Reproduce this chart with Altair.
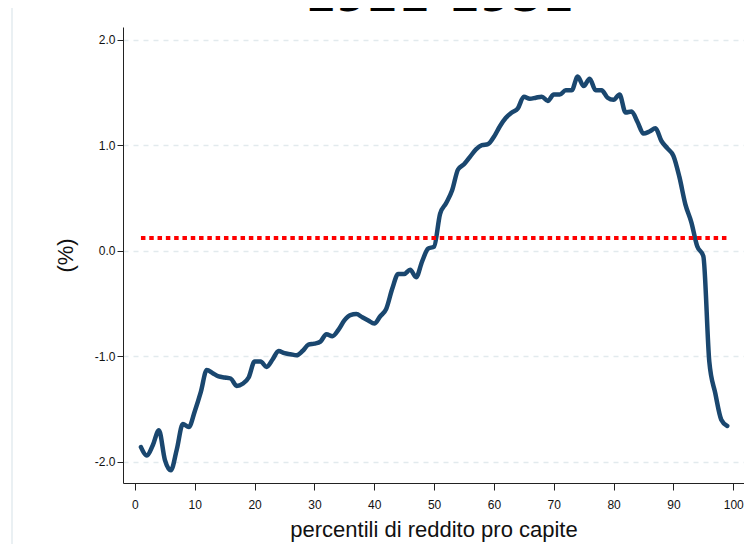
import altair as alt
import pandas as pd

# ---- data ----
percentiles = list(range(1, 100))
values = [
    -1.86, -1.94, -1.84, -1.70, -1.98, -2.08, -1.88, -1.64, -1.67, -1.52,
    -1.34, -1.13, -1.16, -1.19, -1.20, -1.21, -1.28, -1.26, -1.20, -1.05,
    -1.05, -1.10, -1.03, -0.95, -0.97, -0.98, -0.99, -0.95, -0.89, -0.88,
    -0.86, -0.79, -0.81, -0.75, -0.66, -0.61, -0.60, -0.63, -0.66, -0.69,
    -0.62, -0.55, -0.36, -0.22, -0.22, -0.18, -0.25, -0.10, 0.02, 0.04,
    0.35, 0.45, 0.57, 0.77, 0.82, 0.89, 0.96, 1.00, 1.01, 1.08,
    1.18, 1.26, 1.31, 1.35, 1.46, 1.44, 1.45, 1.46, 1.42, 1.48,
    1.48, 1.52, 1.52, 1.65, 1.56, 1.63, 1.52, 1.52, 1.45, 1.43,
    1.48, 1.31, 1.32, 1.22, 1.11, 1.13, 1.16, 1.04, 0.97, 0.90,
    0.70, 0.44, 0.27, 0.04, -0.05, -1.05, -1.35, -1.60, -1.66,
]
ref_value = [0.12]
ref_start = [1]
ref_end = [99]
x_ticks = list(range(0, 101, 10))
y_ticks = [-2, -1, 0, 1, 2]
title_text = "1921-1951"
x_title = "percentili di reddito pro capite"
y_title = "(%)"

df = pd.DataFrame({"pct": percentiles, "val": values})
ref_df = pd.DataFrame({"x": ref_start, "x2": ref_end, "y": ref_value})
one = pd.DataFrame({"t": [title_text]})

FONT = "Liberation Sans"
xscale = alt.Scale(domain=[-2, 101.8], nice=False, zero=False)
yscale = alt.Scale(domain=[-2.2, 2.12], nice=False, zero=False)

frame = alt.Chart(one).mark_rect(
    fillOpacity=0, stroke="#e4ecef", strokeWidth=1.5
).encode(
    x=alt.value(-111), x2=alt.value(700), y=alt.value(-20), y2=alt.value(600)
)

line = alt.Chart(df).mark_line(
    color="#1a476f", strokeWidth=4.5, strokeJoin="round", strokeCap="round",
    interpolate="monotone",
).encode(
    x=alt.X(
        "pct:Q", scale=xscale,
        axis=alt.Axis(
            values=x_ticks, title=x_title, grid=False, format="d",
            tickSize=7, labelPadding=9, labelFontSize=12, titleFontSize=22,
            titlePadding=9, domainColor="#222", tickColor="#222",
        ),
    ),
    y=alt.Y(
        "val:Q", scale=yscale,
        axis=alt.Axis(
            values=y_ticks, title=y_title, grid=True,
            gridColor="#e2eaed", gridDash=[5, 5], gridWidth=1.5,
            labelExpr="datum.value < 0 ? '-' + format(-datum.value, '.1f') : format(datum.value, '.1f')",
            tickSize=6, labelPadding=2, labelFontSize=12, titleFontSize=22,
            titlePadding=17, domainColor="#222", tickColor="#222",
        ),
    ),
)

ref = alt.Chart(ref_df).mark_rule(
    color="#ff0000", strokeWidth=4, strokeDash=[4.5, 3.8]
).encode(
    x=alt.X("x:Q", scale=xscale),
    x2="x2:Q",
    y=alt.Y("y:Q", scale=yscale),
)

title = alt.Chart(one).mark_text(
    font="DejaVu Sans", fontWeight="bold", fontSize=45, align="center",
    baseline="alphabetic", color="#000000"
).encode(
    text="t:N", x=alt.value(316), y=alt.value(-16)
)

chart = alt.layer(frame, line, ref, title).properties(
    width=621, height=456,
    padding={"left": 115, "top": 19, "right": 0, "bottom": 61},
    autosize="none",
).configure_view(stroke="transparent").configure_axis(
    labelFont=FONT, titleFont=FONT, labelColor="#111", titleColor="#111",
    titleFontWeight="normal",
)

chart.save("out.html", embed_options={"renderer": "svg", "actions": False})
